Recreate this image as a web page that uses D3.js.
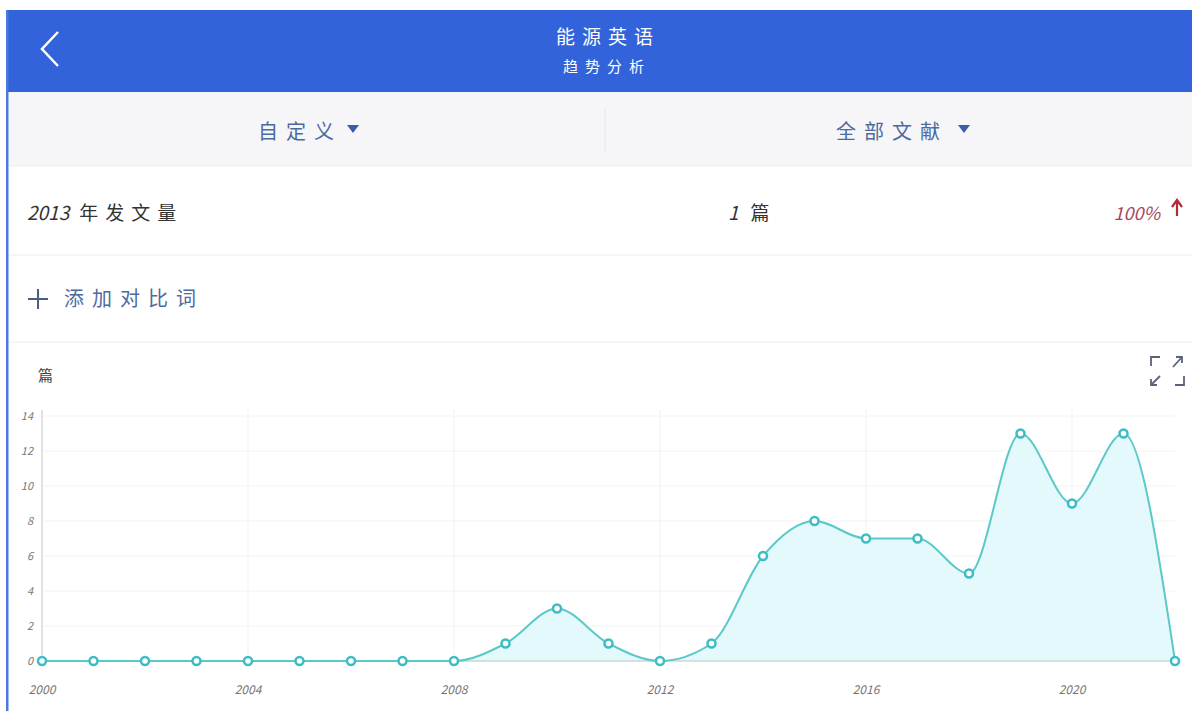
<!DOCTYPE html>
<html><head><meta charset="utf-8">
<script src="https://cdn.jsdelivr.net/npm/d3@7"></script>
<style>
html,body{margin:0;padding:0;background:#fff;}
svg{display:block;font-family:"Noto Sans CJK SC","Noto Sans",sans-serif;}
</style></head>
<body><svg id="c" width="1192" height="711"></svg>
<script>
const years = [2000,2001,2002,2003,2004,2005,2006,2007,2008,2009,2010,2011,2012,2013,2014,2015,2016,2017,2018,2019,2020,2021,2022];
const counts = [0,0,0,0,0,0,0,0,0,1,3,1,0,1,6,8,7,7,5,13,9,13,0];
const yTicks = [0,2,4,6,8,10,12,14];
const xTicks = [2000,2004,2008,2012,2016,2020];

const svg = d3.select("#c");
// header
svg.append("rect").attr("x",6).attr("y",10).attr("width",1186).attr("height",82).attr("fill","#3263db");
svg.append("path").attr("d","M58,32 L42,49 L58,66").attr("fill","none").attr("stroke","#fff").attr("stroke-width",2.5);
svg.append("text").attr("x",608).attr("y",44).attr("text-anchor","middle").attr("fill","#fff").attr("font-size",19).attr("letter-spacing",7).text("能源英语");
svg.append("text").attr("x",607).attr("y",72).attr("text-anchor","middle").attr("fill","#fff").attr("font-size",15).attr("letter-spacing",7).text("趋势分析");
// dropdown row
svg.append("rect").attr("x",9).attr("y",92).attr("width",1183).attr("height",74).attr("fill","#f6f6f8");
svg.append("line").attr("x1",605).attr("x2",605).attr("y1",108).attr("y2",152).attr("stroke","#e6e6ea");
svg.append("line").attr("x1",9).attr("x2",1192).attr("y1",166).attr("y2",166).attr("stroke","#ececef");
svg.append("text").attr("x",258).attr("y",139).attr("fill","#4d6a9e").attr("font-size",20).attr("letter-spacing",8).text("自定义");
svg.append("path").attr("d","M347,125 L359,125 L353,133 Z").attr("fill","#3a5ca8");
svg.append("text").attr("x",836).attr("y",139).attr("fill","#4d6a9e").attr("font-size",20).attr("letter-spacing",8).text("全部文献");
svg.append("path").attr("d","M958,125 L970,125 L964,133 Z").attr("fill","#3a5ca8");
// stats row
svg.append("text").attr("x",27).attr("y",220).attr("fill","#333").attr("font-size",19).html('<tspan font-style="italic">2013</tspan><tspan dx="10" letter-spacing="7">年发文量</tspan>');
svg.append("text").attr("x",728).attr("y",220).attr("fill","#333").attr("font-size",19).html('<tspan font-style="italic">1</tspan><tspan dx="12">篇</tspan>');
svg.append("text").attr("x",1160).attr("y",220).attr("text-anchor","end").attr("fill","#a8485e").attr("font-size",18).attr("font-style","italic").text("100%");
svg.append("path").attr("d","M1177,216 L1177,201 M1172,207 L1177,200 L1182,207").attr("fill","none").attr("stroke","#b02a3a").attr("stroke-width",2.2);
svg.append("line").attr("x1",9).attr("x2",1192).attr("y1",255).attr("y2",255).attr("stroke","#ececef");
// add compare
svg.append("path").attr("d","M28,299 L48,299 M38,289 L38,309").attr("stroke","#4d5f80").attr("stroke-width",2);
svg.append("text").attr("x",64).attr("y",306).attr("fill","#4d6a9e").attr("font-size",20).attr("letter-spacing",8).text("添加对比词");
svg.append("line").attr("x1",9).attr("x2",1192).attr("y1",342).attr("y2",342).attr("stroke","#ececef");
// unit + expand icon
svg.append("text").attr("x",38).attr("y",381).attr("fill","#444").attr("font-size",15).text("篇");
svg.append("path").attr("d","M1151,366 L1151,357 L1160,357 M1173,367 L1182,357 M1176,357 L1182,357 L1182,363 M1151,385 L1160,376 M1151,379 L1151,385 L1157,385 M1175,385 L1184,385 L1184,376").attr("fill","none").attr("stroke","#5a6478").attr("stroke-width",1.8);
// left border
svg.append("rect").attr("x",6).attr("y",10).attr("width",2.5).attr("height",701).attr("fill","#4a78dc");

// chart
const x = d3.scaleLinear().domain([2000,2022]).range([42,1175]);
const y = d3.scaleLinear().domain([0,14]).range([661,416]);
const g = svg.append("g");
g.selectAll(".hg").data(yTicks.slice(1)).join("line").attr("x1",42).attr("x2",1175).attr("y1",d=>y(d)).attr("y2",d=>y(d)).attr("stroke","#f3f3f5");
g.selectAll(".vg").data(xTicks.slice(1)).join("line").attr("x1",d=>x(d)).attr("x2",d=>x(d)).attr("y1",410).attr("y2",661).attr("stroke","#f1f1f4");
g.append("line").attr("x1",42).attr("x2",42).attr("y1",410).attr("y2",661).attr("stroke","#d8d8dc").attr("stroke-width",1.5);
const data = years.map((d,i)=>({yr:d,v:counts[i]}));
const area = d3.area().x(d=>x(d.yr)).y0(y(0)).y1(d=>y(d.v)).curve(d3.curveMonotoneX);
const line = d3.line().x(d=>x(d.yr)).y(d=>y(d.v)).curve(d3.curveMonotoneX);
g.append("path").datum(data).attr("d",area).attr("fill","#e4f9fc");
g.append("line").attr("x1",42).attr("x2",1175).attr("y1",661).attr("y2",661).attr("stroke","#b8c4c8").attr("stroke-width",1.2);
g.append("path").datum(data).attr("d",line).attr("fill","none").attr("stroke","#5cc8c8").attr("stroke-width",2);
g.selectAll(".pt").data(data).join("circle").attr("cx",d=>x(d.yr)).attr("cy",d=>y(d.v)).attr("r",4).attr("fill","#fff").attr("stroke","#3cbcc4").attr("stroke-width",2.5);
g.selectAll(".yl").data(yTicks).join("text").attr("x",33).attr("y",d=>y(d)+4).attr("text-anchor","end").attr("fill","#777").attr("font-size",11).attr("font-style","italic").text(d=>d);
g.selectAll(".xl").data(xTicks).join("text").attr("x",d=>x(d)).attr("y",694).attr("text-anchor","middle").attr("fill","#777").attr("font-size",12).attr("font-style","italic").text(d=>d);
</script></body></html>
